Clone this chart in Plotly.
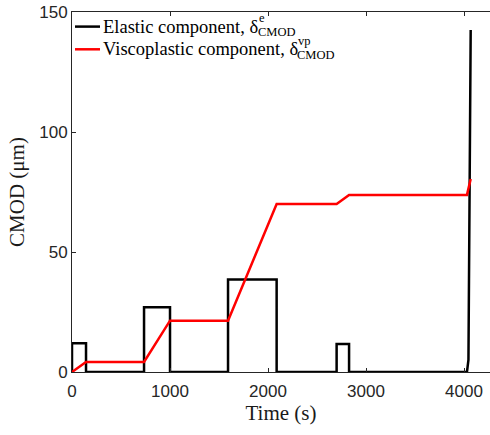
import plotly.graph_objects as go

# Elastic component (time s, CMOD um)
t_el = [0, 0, 143, 143, 735, 735, 1000, 1000, 1592, 1592, 2088, 2088, 2700, 2700, 2827, 2827, 4030, 4045, 4068]
v_el = [0, 12, 12, 0, 0, 27, 27, 0, 0, 38.5, 38.5, 0, 0, 11.7, 11.7, 0, 0, 5, 142.5]

# Viscoplastic component
t_vp = [0, 143, 735, 1000, 1592, 2088, 2700, 2827, 4030, 4068]
v_vp = [0, 4.2, 4.2, 21.4, 21.4, 70, 70, 73.8, 73.8, 80.4]

x_ticks = [0, 1000, 2000, 3000, 4000]
y_ticks = [0, 50, 100, 150]

names = ["Elastic component, δ", "Viscoplastic component, δ"]
sups = ["e", "vp"]
subs = ["CMOD", "CMOD"]
colors = ["black", "red"]

serif = "Liberation Serif"
sans = "Liberation Sans"

# plot-area pixel geometry (for the hand-drawn legend)
L, R, T, B = 72, 490, 12, 372
def px(x): return (x - L) / (R - L)
def py(y): return (B - y) / (B - T)

fig = go.Figure()
fig.add_trace(go.Scatter(x=t_el, y=v_el, mode="lines",
                         line=dict(color=colors[0], width=2.5), name=names[0]))
fig.add_trace(go.Scatter(x=t_vp, y=v_vp, mode="lines",
                         line=dict(color=colors[1], width=2.5), name=names[1]))

# legend (MATLAB-like, box off, stacked super/subscripts)
row_y = [26.6, 49.3]
text_end = [257, 296]
for i in range(2):
    fig.add_shape(type="line", xref="paper", yref="paper",
                  x0=px(75), x1=px(100), y0=py(row_y[i]), y1=py(row_y[i]),
                  line=dict(color=colors[i], width=2.5))
    fig.add_annotation(xref="paper", yref="paper", x=px(101), y=py(row_y[i]),
                       xanchor="left", yanchor="middle", showarrow=False,
                       text=names[i], font=dict(family=serif, size=18.5, color="black"))
    fig.add_annotation(xref="paper", yref="paper", x=px(text_end[i]), y=py(row_y[i] + 5.5),
                       xanchor="left", yanchor="middle", showarrow=False, borderpad=0,
                       text=subs[i], font=dict(family=serif, size=12.5, color="black"))
    fig.add_annotation(xref="paper", yref="paper", x=px(text_end[i] + 0.5), y=py(row_y[i] - 8.5),
                       xanchor="left", yanchor="middle", showarrow=False, borderpad=0,
                       text=sups[i], font=dict(family=serif, size=12.5, color="black"))

fig.update_layout(
    width=490, height=435,
    margin=dict(l=L, r=490 - R, t=T, b=435 - B),
    plot_bgcolor="white", paper_bgcolor="white",
    showlegend=False,
    xaxis=dict(range=[0, 4265], tickvals=x_ticks, ticks="inside", ticklen=4,
               showgrid=False, zeroline=False, showline=True, mirror="ticks",
               linecolor="#262626", linewidth=1, tickcolor="#262626",
               ticklabelstandoff=4,
               tickfont=dict(family=sans, size=17, color="#262626"),
               title=dict(text="Time (s)", font=dict(family=serif, size=21, color="#1a1a1a"), standoff=0)),
    yaxis=dict(range=[0, 150], tickvals=y_ticks, ticks="inside", ticklen=4,
               showgrid=False, zeroline=False, showline=True, mirror=False,
               linecolor="#262626", linewidth=1, tickcolor="#262626",
               tickfont=dict(family=sans, size=17, color="#262626"),
               title=dict(text="CMOD (μm)", font=dict(family=serif, size=21, color="#1a1a1a"), standoff=8)),
)

fig.write_html("out.html")
